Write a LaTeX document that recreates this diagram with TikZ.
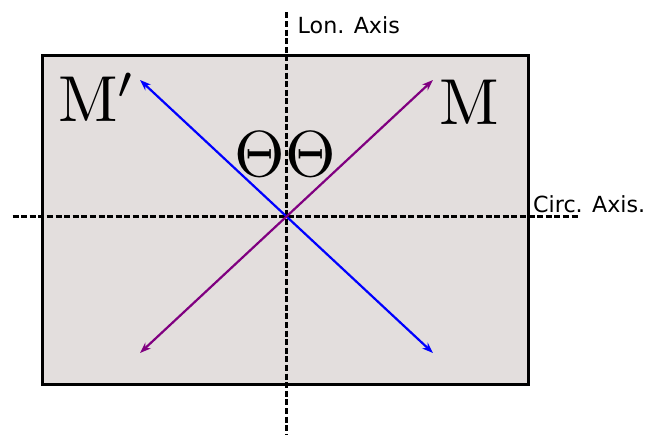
\documentclass[tikz,border=0pt]{standalone}
\usepackage{fontspec}
\newfontfamily\labelfont{DejaVu Sans}
\usetikzlibrary{arrows.meta}
\definecolor{platefill}{HTML}{E3DEDD}
\definecolor{mpurple}{HTML}{800080}
\tikzset{
  axisline/.style={line width=3pt, dash pattern=on 6pt off 2.6pt},
  vecarrow/.style={line width=2.2pt, {Stealth[length=11pt,width=8pt]}-{Stealth[length=11pt,width=8pt]}},
  axislabel/.style={font=\labelfont\fontsize{22.2}{28}\selectfont, inner sep=0pt, anchor=west},
  biglabel/.style={font=\fontsize{10}{12}\selectfont, inner sep=0pt, scale=6.5}
}
\begin{document}
\begin{tikzpicture}[x=1pt,y=-1pt]
\useasboundingbox (0,0) rectangle (646,435);
\node[draw=black, fill=platefill, line width=2.8pt, minimum width=486pt, minimum height=329pt, inner sep=0pt, anchor=north west] (plate) at (41,54) {};
\coordinate (o) at (286,217);
\coordinate (vt) at (286,12.5);
\coordinate (vb) at (286,435);
\coordinate (hl) at (12.5,217);
\coordinate (hr) at (578,217);
\draw[axisline] (vt) -- (vb);
\draw[axisline] (hl) -- (hr);
\coordinate (b1) at (140,80);
\coordinate (b2) at (433,353);
\coordinate (p1) at (140,353);
\coordinate (p2) at (433,80);
\draw[vecarrow, blue] (b1) -- (b2);
\draw[vecarrow, mpurple] (p1) -- (p2);
\node[axislabel] (lon) at (297.5,25) {Lon. Axis};
\node[axislabel] (circ) at (533,204) {Circ. Axis.};
\node[biglabel, anchor=base west] (mp) at (57,122) {$\mathrm{M}'$};
\node[biglabel, anchor=base west] (m) at (438,125) {$\mathrm{M}$};
\node[biglabel] (th) at (285.5,154) {$\Theta\Theta$};
\end{tikzpicture}
\end{document}
